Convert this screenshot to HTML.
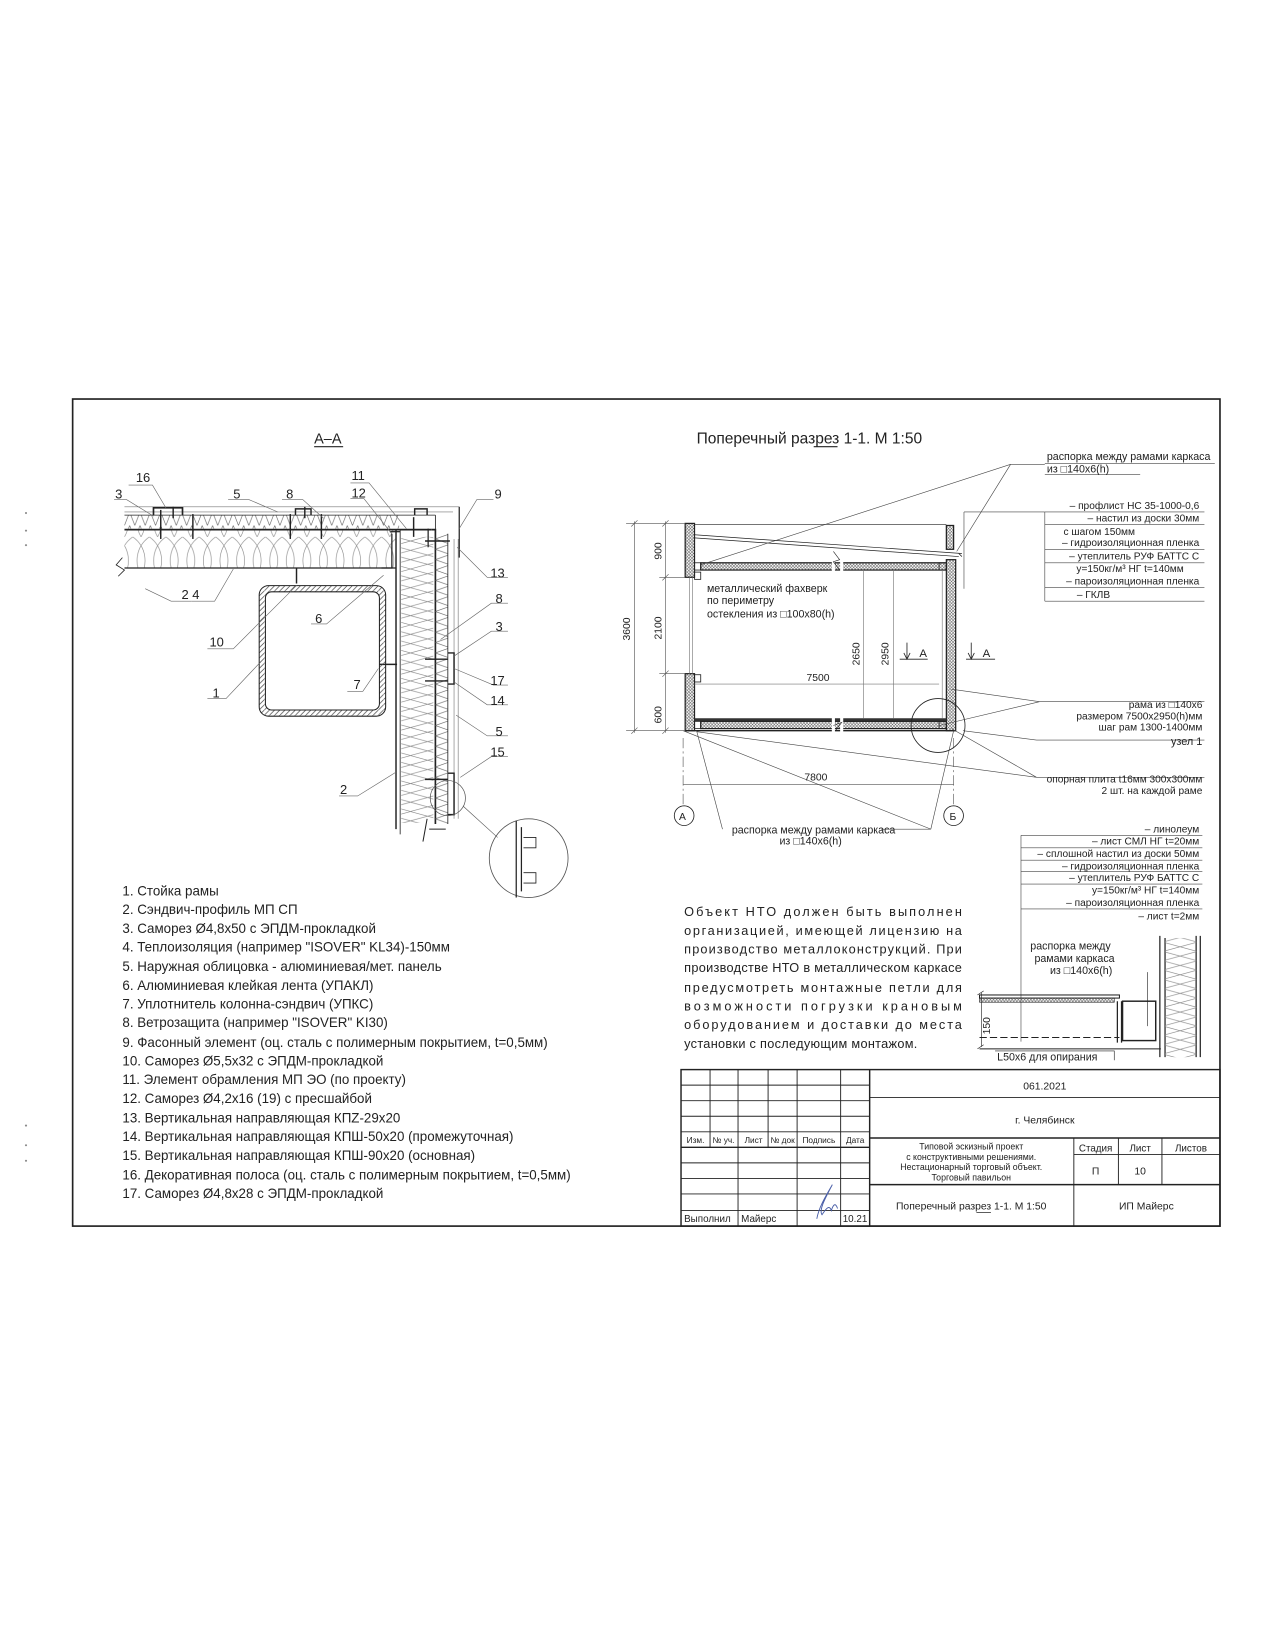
<!DOCTYPE html>
<html><head><meta charset="utf-8"><style>
html,body{margin:0;padding:0;background:#fff}
svg{display:block}
text{font-family:"Liberation Sans Narrow","Liberation Sans","DejaVu Sans",sans-serif;fill:#222}
</style></head><body>
<svg width="1275" height="1650" viewBox="0 0 1230 1592" xmlns="http://www.w3.org/2000/svg">
<defs>
<pattern id="zz" width="10" height="13" patternUnits="userSpaceOnUse"><path d="M0,13 L5,0 L10,13" fill="none" stroke="#666" stroke-width="0.6"/></pattern>
<pattern id="zzv" width="14" height="10" patternUnits="userSpaceOnUse"><path d="M0,0 L14,5 L0,10" fill="none" stroke="#666" stroke-width="0.6"/></pattern>
<pattern id="wool" width="16" height="37" patternUnits="userSpaceOnUse"><path d="M0,0 C14,10 14,27 8,37 M16,0 C2,10 2,27 8,37" fill="none" stroke="#888" stroke-width="0.6"/></pattern>
<pattern id="woolv" width="33" height="18" patternUnits="userSpaceOnUse"><path d="M0,0 L33,9 L0,18 M33,0 L0,9 L33,18" fill="none" stroke="#888" stroke-width="0.6"/></pattern>
<pattern id="xh" width="3" height="3" patternUnits="userSpaceOnUse"><path d="M0,0 L3,3 M3,0 L0,3" stroke="#555" stroke-width="0.5"/></pattern>
<pattern id="hat" width="5" height="5" patternUnits="userSpaceOnUse"><path d="M0,5 L5,0" stroke="#444" stroke-width="0.7"/></pattern>
</defs>

<g fill="#888"><circle cx="25" cy="495" r="1"/><circle cx="25" cy="512" r="1"/><circle cx="25" cy="526" r="1"/><circle cx="25" cy="1086" r="1"/><circle cx="25" cy="1105" r="1"/><circle cx="25" cy="1120" r="1"/></g>

<rect x="70" y="385" width="1107" height="798" fill="none" stroke="#222" stroke-width="1.6"/>

<text x="303" y="428" font-size="14">А–А</text>
<line x1="303" y1="431" x2="331" y2="431" stroke="#222" stroke-width="1"/>

<g stroke="#222" fill="none">
<rect x="120" y="497" width="265" height="13" fill="url(#zz)" stroke="none"/>
<rect x="120" y="511" width="262" height="37" fill="url(#wool)" stroke="none"/>
<line x1="120" y1="489" x2="443" y2="489" stroke-width="0.6" stroke="#777"/>
<line x1="120" y1="494" x2="437" y2="494" stroke-width="0.6" stroke="#777"/>
<line x1="120" y1="497" x2="420" y2="497" stroke-width="0.7"/>
<line x1="120" y1="511" x2="416" y2="511" stroke-width="1.6"/>
<line x1="120" y1="548" x2="382" y2="548" stroke-width="1.2"/>
<path d="M118,538 L112,545 L120,550 L114,556" stroke-width="0.8"/>
<path d="M148,497 V490 H176 V497" stroke-width="1.6"/>
<path d="M285,497 V491 H300 V497" stroke-width="1.4"/>
<path d="M400,497 V491 H412 V497" stroke-width="1.4"/>
<g stroke-width="1.4"><line x1="155" y1="492" x2="155" y2="520"/><line x1="186" y1="496" x2="186" y2="520"/><line x1="280" y1="496" x2="280" y2="520"/><line x1="310" y1="496" x2="310" y2="520"/><line x1="399" y1="499" x2="399" y2="518"/><line x1="167" y1="489" x2="167" y2="500"/><line x1="294" y1="489" x2="294" y2="500"/></g>
<path d="M420,497 V511" stroke-width="0.8"/>
<path d="M382,511 V800" stroke-width="1.4"/>
<path d="M386,511 V805" stroke-width="0.8"/>
<path d="M376,513 H386" stroke-width="1.2"/>
<rect x="387" y="518" width="31" height="276" fill="url(#woolv)" stroke="none"/>
<path d="M416,511 H420 V795" stroke-width="1.6"/>
<rect x="420" y="515" width="12" height="280" fill="url(#zzv)" stroke="none"/>
<path d="M432,515 V795" stroke-width="0.8"/>
<path d="M443,489 V538" stroke-width="1.2"/>
<path d="M438,520 V790 M442,520 V790" stroke="#888" stroke-width="0.7"/>
<path d="M413,510 V528 M378,515 V548 L368,548" stroke-width="1.2"/>
<g stroke-width="1.4"><line x1="410" y1="522" x2="434" y2="522"/><line x1="410" y1="636" x2="432" y2="636"/><line x1="410" y1="657" x2="432" y2="657"/><line x1="410" y1="752" x2="432" y2="752"/><line x1="360" y1="641" x2="383" y2="641"/><line x1="286" y1="548" x2="286" y2="563"/></g>
<path d="M432,630 H438 V660 H432" stroke-width="1.4"/>
<path d="M432,746 H438 V786 H432" stroke-width="1.4"/>
<path d="M430,800 L414,800 M412,790 L408,812" stroke-width="1"/>
<rect x="250" y="565" width="122" height="126" rx="9" fill="url(#hat)" stroke-width="1"/>
<rect x="256" y="571" width="110" height="114" rx="6" fill="#fff" stroke-width="1"/>
<circle cx="432" cy="770" r="17" stroke-width="0.7" stroke="#555"/>
<circle cx="510" cy="828" r="38" stroke-width="0.8" stroke="#555"/>
<line x1="447" y1="778" x2="480" y2="808" stroke="#555" stroke-width="0.6"/>
<path d="M498,792 V866 M503,798 V860" stroke-width="1.2"/>
<path d="M505,808 h12 v10 h-12 M505,842 h12 v10 h-12" stroke-width="0.8"/>
<g stroke="#666" stroke-width="0.6">
<path d="M124,468 H147 L160,490"/>
<path d="M110,482 H122 L148,498"/>
<path d="M220,482 H240 L268,494"/>
<path d="M272,482 H292 L312,500"/>
<path d="M338,466 H356 L392,510"/>
<path d="M338,481 H351 L378,515"/>
<path d="M476,482 H460 L443,510"/>
<path d="M490,557 H470 L441,528"/>
<path d="M490,582 H474 L425,617"/>
<path d="M490,609 H474 L438,633"/>
<path d="M490,661 H476 L438,645"/>
<path d="M490,680 H470 L438,658"/>
<path d="M490,710 H470 L440,690"/>
<path d="M490,730 H474 L444,750"/>
<path d="M140,568 L165,580 H185"/>
<path d="M185,580 H207 L225,549"/>
<path d="M300,602 H315 L370,555"/>
<path d="M200,626 H225 L286,565"/>
<path d="M200,674 H218 L252,638"/>
<path d="M335,667 H350 L365,645"/>
<path d="M327,768 H345 L382,745"/>
</g>
</g>
<g font-size="12.5">
<text x="131" y="465">16</text><text x="111" y="481">3</text><text x="225" y="481">5</text><text x="276" y="481">8</text>
<text x="339" y="463">11</text><text x="339" y="480">12</text><text x="477" y="481">9</text>
<text x="473" y="557">13</text><text x="478" y="582">8</text><text x="478" y="609">3</text>
<text x="473" y="661">17</text><text x="473" y="680">14</text><text x="478" y="710">5</text><text x="473" y="730">15</text>
<text x="175" y="578">2 4</text><text x="304" y="601">6</text><text x="202" y="624">10</text><text x="205" y="673">1</text>
<text x="341" y="665">7</text><text x="328" y="766">2</text>
</g>

<g font-size="12.9">
<text x="118" y="864">1. Стойка рамы</text>
<text x="118" y="882">2. Сэндвич-профиль МП СП</text>
<text x="118" y="900">3. Саморез Ø4,8х50 с ЭПДМ-прокладкой</text>
<text x="118" y="918">4. Теплоизоляция (например "ISOVER" KL34)-150мм</text>
<text x="118" y="937">5. Наружная облицовка - алюминиевая/мет. панель</text>
<text x="118" y="955">6. Алюминиевая клейкая лента (УПАКЛ)</text>
<text x="118" y="973">7. Уплотнитель колонна-сэндвич (УПКС)</text>
<text x="118" y="991">8. Ветрозащита (например "ISOVER" KI30)</text>
<text x="118" y="1010">9. Фасонный элемент (оц. сталь с полимерным покрытием, t=0,5мм)</text>
<text x="118" y="1028">10. Саморез Ø5,5х32 с ЭПДМ-прокладкой</text>
<text x="118" y="1046">11. Элемент обрамления МП ЭО (по проекту)</text>
<text x="118" y="1064">12. Саморез Ø4,2х16 (19) с пресшайбой</text>
<text x="118" y="1083">13. Вертикальная направляющая КПZ-29х20</text>
<text x="118" y="1101">14. Вертикальная направляющая КПШ-50х20 (промежуточная)</text>
<text x="118" y="1119">15. Вертикальная направляющая КПШ-90х20 (основная)</text>
<text x="118" y="1138">16. Декоративная полоса (оц. сталь с полимерным покрытием, t=0,5мм)</text>
<text x="118" y="1156">17. Саморез Ø4,8х28 с ЭПДМ-прокладкой</text>
</g>

<text x="672" y="428" font-size="15">Поперечный разрез 1-1. М 1:50</text>
<line x1="785" y1="431" x2="808" y2="431" stroke="#222" stroke-width="1"/>

<g stroke="#222" fill="none">
<rect x="661" y="505" width="9" height="52" fill="url(#xh)" stroke-width="1.2"/>
<rect x="661" y="650" width="9" height="55" fill="url(#xh)" stroke-width="1.2"/>
<rect x="670" y="552" width="6" height="7" stroke-width="0.8"/>
<rect x="670" y="651" width="6" height="7" stroke-width="0.8"/>
<path d="M665,557 V650 M668,557 V650" stroke="#777" stroke-width="0.6"/>
<rect x="913" y="540" width="9" height="165" fill="url(#xh)" stroke-width="1.2"/>
<rect x="913" y="507" width="7" height="23" fill="url(#xh)" stroke-width="1.2"/>
<rect x="676" y="543" width="237" height="7" fill="url(#xh)" stroke-width="1.2"/>
<rect x="670" y="543" width="6" height="7" stroke-width="0.8"/>
<rect x="670" y="693" width="243" height="3" fill="#333" stroke="none"/>
<rect x="676" y="696" width="237" height="7" fill="url(#xh)" stroke-width="1.2"/>
<rect x="670" y="696" width="6" height="7" stroke-width="0.8"/>
<rect x="906" y="696" width="7" height="7" stroke-width="0.8"/>
<rect x="906" y="543" width="7" height="7" stroke-width="0.8"/>
<line x1="661" y1="705" x2="922" y2="705" stroke-width="1.4"/>
<path d="M670,506 H913" stroke-width="0.7"/>
<path d="M670,516 L928,534 M670,519 L925,537" stroke-width="0.7"/>
<line x1="925" y1="534" x2="928" y2="537" stroke-width="0.7"/>
<path d="M804,530 V560 M812,530 V560" stroke="#fff" stroke-width="3"/>
<path d="M804,532 l6,8 l-6,2 l6,8" stroke-width="0.6"/>
<path d="M804,685 V710 M812,685 V710" stroke="#fff" stroke-width="3"/>
<path d="M804,700 l8,-3 l-6,8" stroke-width="0.6"/>
<path d="M909,550 V693 M862,550 V693 M833,550 V693" stroke="#777" stroke-width="0.6"/>
<path d="M670,660 H906" stroke="#777" stroke-width="0.6"/>
<g stroke-width="0.6" stroke="#555">
<line x1="612" y1="503" x2="612" y2="707"/><line x1="642" y1="503" x2="642" y2="707"/>
<line x1="604" y1="505" x2="661" y2="505"/><line x1="604" y1="705" x2="661" y2="705"/>
<line x1="636" y1="557" x2="661" y2="557"/><line x1="636" y1="650" x2="661" y2="650"/>
<path d="M609,508 l6,-6 M609,708 l6,-6 M639,508 l6,-6 M639,560 l6,-6 M639,653 l6,-6 M639,708 l6,-6"/>
<line x1="659" y1="712" x2="659" y2="776" stroke-dasharray="10,3,2,3"/>
<line x1="920" y1="712" x2="920" y2="776" stroke-dasharray="10,3,2,3"/>
<line x1="659" y1="757" x2="920" y2="757"/>
</g>
<circle cx="660" cy="787" r="9.5" stroke-width="0.8"/>
<circle cx="920" cy="787" r="9.5" stroke-width="0.8"/>
<path d="M875,620 V635 M868,636 H895 M937,620 V635 M932,636 H960" stroke-width="0.8"/>
<path d="M872,630 L875,636 L878,630 M934,630 L937,636 L940,630" stroke-width="0.8"/>
<circle cx="905" cy="700" r="26" stroke-width="0.8"/>
<g stroke="#444" stroke-width="0.6">
<path d="M1008,447 H1172"/><path d="M1008,448 H975 L676,545 M975,448 L923,532"/>
<path d="M1008,458 H1100"/>
<path d="M850,800 H898 M898,800 L659,705 M898,800 L920,705"/>
<path d="M697,800 L672,705"/>
<path d="M1003,677 H1162 M1003,677 L918,665 M1003,677 L906,700"/>
<path d="M1000,714 H1162 M1000,714 L929,705"/>
<path d="M1000,750 H1162 M1000,750 L672,706 M1000,750 L918,703"/>
<path d="M930,494 H1008 M930,494 V568"/>
<line x1="1008" y1="494" x2="1008" y2="580"/>
<path d="M1008,494 H1162 M1008,506 H1162 M1008,530 H1162 M1008,543 H1162 M1008,567 H1162 M1008,580 H1162"/>
<path d="M985,806 H1160 M985,818 H1160 M985,830 H1160 M985,841 H1160 M985,853 H1160 M985,877 H1160"/>
<line x1="985" y1="806" x2="985" y2="1005"/>
</g>
<rect x="945" y="960" width="135" height="3" stroke-width="1"/>
<rect x="945" y="963" width="130" height="4" fill="url(#xh)" stroke-width="0.6"/>
<path d="M945,1001 H1080" stroke-width="1" stroke-dasharray="7,3"/>
<path d="M1078,966 V1006 M1082,966 V1006" stroke-width="1.2"/>
<rect x="1083" y="966" width="32" height="38" stroke-width="1.4"/>
<path d="M1119,903 V1020 M1124,905 V1020 M1154,903 V1020 M1158,903 V1020" stroke-width="1.2"/>
<rect x="1124" y="905" width="30" height="115" fill="url(#woolv)" stroke="none"/>
<path d="M1107,938 V990" stroke-width="0.6"/>
<path d="M945,1012 H1120" stroke-width="1"/>
<path d="M960,1014 H1075 V1023" stroke-width="0.6"/>
<path d="M947,958 V1010 M943,960 l6,-4 M943,1012 l6,-4" stroke-width="0.6"/>
</g>
<g font-size="10.3">
<text x="1010" y="444">распорка между рамами каркаса</text>
<text x="1010" y="456">из □140х6(h)</text>
<text x="682" y="571">металлический фахверк</text>
<text x="682" y="583">по периметру</text>
<text x="682" y="596">остекления из  □100х80(h)</text>
<text x="706" y="804">распорка между рамами каркаса</text>
<text x="752" y="815">из □140х6(h)</text>
<text x="994" y="916">распорка между</text>
<text x="998" y="928">рамами каркаса</text>
<text x="1013" y="940">из □140х6(h)</text>
<text x="962" y="1023">L50х6 для опирания</text>
</g>
<g font-size="9.8" text-anchor="end">
<text x="1157" y="491">– профлист НС 35-1000-0,6</text>
<text x="1157" y="503">– настил из доски 30мм</text>
<text x="1095" y="516">с шагом 150мм</text>
<text x="1157" y="527">– гидроизоляционная пленка</text>
<text x="1157" y="540">– утеплитель РУФ БАТТС С</text>
<text x="1142" y="552">у=150кг/м³ НГ t=140мм</text>
<text x="1157" y="564">– пароизоляционная пленка</text>
<text x="1071" y="577">– ГКЛВ</text>
<text x="1160" y="683">рама из □140х6</text>
<text x="1160" y="694">размером 7500х2950(h)мм</text>
<text x="1160" y="705">шаг рам 1300-1400мм</text>
<text x="1160" y="719" font-size="10.5">узел 1</text>
<text x="1160" y="755">опорная плита t16мм 300х300мм</text>
<text x="1160" y="766">2 шт. на каждой раме</text>
<text x="1157" y="803">– линолеум</text>
<text x="1157" y="815">– лист СМЛ НГ t=20мм</text>
<text x="1157" y="827">– сплошной настил из доски 50мм</text>
<text x="1157" y="839">– гидроизоляционная пленка</text>
<text x="1157" y="850">– утеплитель РУФ БАТТС С</text>
<text x="1157" y="862">у=150кг/м³ НГ t=140мм</text>
<text x="1157" y="874">– пароизоляционная пленка</text>
<text x="1157" y="887">– лист t=2мм</text>
</g>
<g font-size="10">
<text x="778" y="657">7500</text>
<text x="776" y="753">7800</text>
<text x="655" y="791">А</text><text x="916" y="791">Б</text>
<text x="887" y="634" font-size="11">А</text><text x="948" y="634" font-size="11">А</text>
<text transform="translate(608,618) rotate(-90)">3600</text>
<text transform="translate(638,540) rotate(-90)">900</text>
<text transform="translate(638,617) rotate(-90)">2100</text>
<text transform="translate(638,698) rotate(-90)">600</text>
<text transform="translate(829,642) rotate(-90)">2650</text>
<text transform="translate(857,642) rotate(-90)">2950</text>
<text transform="translate(955,998) rotate(-90)">150</text>
</g>

<g font-size="12.3">
<text x="660" y="884" textLength="268" lengthAdjust="spacing">Объект НТО должен быть выполнен</text>
<text x="660" y="902" textLength="268" lengthAdjust="spacing">организацией, имеющей лицензию на</text>
<text x="660" y="920" textLength="268" lengthAdjust="spacing">производство металлоконструкций. При</text>
<text x="660" y="938" textLength="268" lengthAdjust="spacing">производстве НТО в металлическом каркасе</text>
<text x="660" y="957" textLength="268" lengthAdjust="spacing">предусмотреть монтажные петли для</text>
<text x="660" y="975" textLength="268" lengthAdjust="spacing">возможности погрузки крановым</text>
<text x="660" y="993" textLength="268" lengthAdjust="spacing">оборудованием и доставки до места</text>
<text x="660" y="1011" textLength="225" lengthAdjust="spacing">установки с последующим монтажом.</text>
</g>

<g stroke="#222" fill="none" stroke-width="0.9">
<rect x="657" y="1032" width="520" height="151" stroke-width="1.4"/>
<line x1="839" y1="1032" x2="839" y2="1183" stroke-width="1.4"/>
<g>
<line x1="657" y1="1047" x2="839" y2="1047"/><line x1="657" y1="1062" x2="839" y2="1062"/>
<line x1="657" y1="1077" x2="839" y2="1077"/><line x1="657" y1="1092" x2="839" y2="1092"/>
<line x1="657" y1="1107" x2="839" y2="1107" stroke-width="1.4"/><line x1="657" y1="1122" x2="839" y2="1122"/>
<line x1="657" y1="1137" x2="839" y2="1137"/><line x1="657" y1="1152" x2="839" y2="1152"/>
<line x1="657" y1="1168" x2="839" y2="1168"/>
<line x1="685" y1="1032" x2="685" y2="1107"/><line x1="712" y1="1032" x2="712" y2="1183"/>
<line x1="741" y1="1032" x2="741" y2="1107"/><line x1="769" y1="1032" x2="769" y2="1183"/>
<line x1="811" y1="1032" x2="811" y2="1183"/>
</g>
<line x1="839" y1="1059" x2="1177" y2="1059"/>
<line x1="839" y1="1098" x2="1177" y2="1098" stroke-width="1.4"/>
<line x1="839" y1="1143" x2="1177" y2="1143" stroke-width="1.4"/>
<line x1="1036" y1="1098" x2="1036" y2="1183"/>
<line x1="1079" y1="1098" x2="1079" y2="1143"/>
<line x1="1121" y1="1098" x2="1121" y2="1143"/>
<line x1="1036" y1="1114" x2="1177" y2="1114"/>
<path d="M788,1176 C790,1165 796,1155 803,1143 C795,1158 790,1168 793,1172 C797,1166 800,1162 802,1168 C804,1162 806,1160 808,1166" stroke="#4a5fa8" stroke-width="0.9"/>
</g>
<g font-size="8" text-anchor="middle">
<text x="671" y="1103">Изм.</text><text x="698" y="1103">№ уч.</text><text x="727" y="1103">Лист</text>
<text x="755" y="1103">№ док</text><text x="790" y="1103">Подпись</text><text x="825" y="1103">Дата</text>
</g>
<g font-size="9.5">
<text x="660" y="1179">Выполнил</text><text x="715" y="1179">Майерс</text><text x="813" y="1179">10.21</text>
</g>
<g text-anchor="middle">
<text x="1008" y="1051" font-size="10">061.2021</text>
<text x="1008" y="1084" font-size="10">г. Челябинск</text>
<text x="937" y="1109" font-size="8.5">Типовой эскизный проект</text>
<text x="937" y="1119" font-size="8.5">с конструктивными решениями.</text>
<text x="937" y="1129" font-size="8.5">Нестационарный торговый объект.</text>
<text x="937" y="1139" font-size="8.5">Торговый павильон</text>
<text x="1057" y="1111" font-size="9.5">Стадия</text><text x="1100" y="1111" font-size="9.5">Лист</text><text x="1149" y="1111" font-size="9.5">Листов</text>
<text x="1057" y="1133" font-size="10">П</text><text x="1100" y="1133" font-size="10">10</text>
<text x="937" y="1167" font-size="10">Поперечный разрез 1-1. М 1:50</text>
<text x="1106" y="1167" font-size="10">ИП Майерс</text>
</g>
<line x1="942" y1="1170" x2="956" y2="1170" stroke="#222" stroke-width="0.7"/>
</svg>
</body></html>
